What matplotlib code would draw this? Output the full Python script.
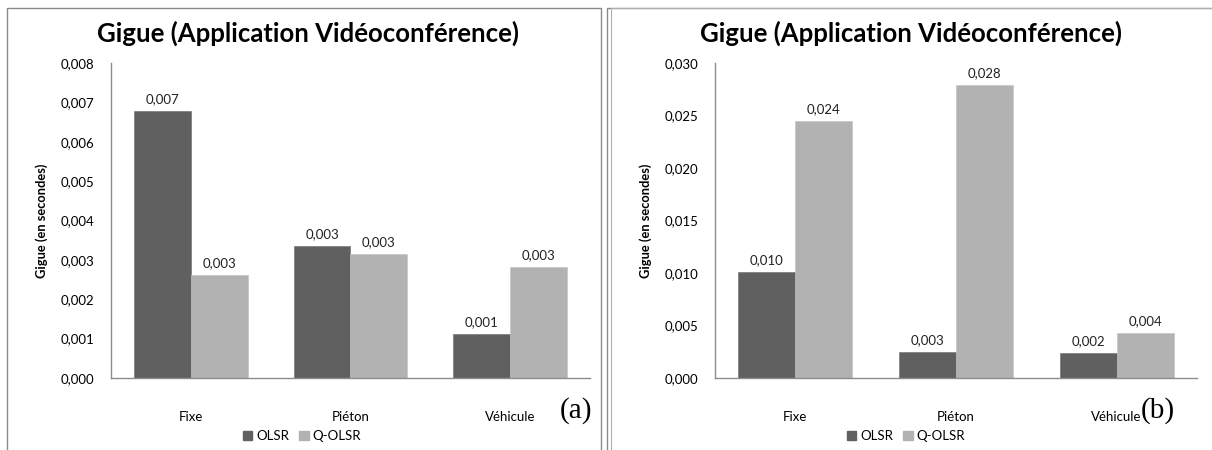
import matplotlib
matplotlib.use("Agg")
import matplotlib.pyplot as plt
from matplotlib.patches import Rectangle
import numpy as np

categories = ["Fixe", "Piéton", "Véhicule"]
series_names = ["OLSR", "Q-OLSR"]
olsr_a = [0.00679, 0.00335, 0.00112]
qolsr_a = [0.00262, 0.00315, 0.00283]
olsr_b = [0.0101, 0.0025, 0.00238]
qolsr_b = [0.0245, 0.0279, 0.00429]
labels_olsr_a = ["0,007", "0,003", "0,001"]
labels_qolsr_a = ["0,003", "0,003", "0,003"]
labels_olsr_b = ["0,010", "0,003", "0,002"]
labels_qolsr_b = ["0,024", "0,028", "0,004"]
yticks_a = [0.000, 0.001, 0.002, 0.003, 0.004, 0.005, 0.006, 0.007, 0.008]
yticks_b = [0.000, 0.005, 0.010, 0.015, 0.020, 0.025, 0.030]
title = "Gigue (Application Vidéoconférence)"
ylabel = "Gigue (en secondes)"
panel_tags = ["(a)", "(b)"]

C_OLSR = "#606060"
C_Q = "#b2b2b2"
FONT = "Lato"
FS = 9.5

W, H = 1212, 450
fig = plt.figure(figsize=(W / 100, H / 100), dpi=100)

def px_axes(x0, y_top, x1, y_bot):
    return fig.add_axes([x0 / W, 1 - y_bot / H, (x1 - x0) / W, (y_bot - y_top) / H])

# panel borders
bg = fig.add_axes([0, 0, 1, 1])
bg.set_xlim(0, W)
bg.set_ylim(H, 0)
bg.axis("off")
bg.add_patch(Rectangle((6.5, 7.5), 594, 460, fill=False, ec="#8a8a8a", lw=1.0))
bg.add_patch(Rectangle((606.5, 7.5), 606, 460, fill=False, ec="#8a8a8a", lw=1.0))
bg.add_patch(Rectangle((610.5, 7.5), 606, 460, fill=False, ec="#b0b0b0", lw=0.8))

def draw(ax_box, olsr, qolsr, lo, lq, yticks, ymax, title_cx, legend_cx, tag, tag_x):
    ax = px_axes(*ax_box)
    x = np.arange(len(categories))
    w = 0.355
    ax.bar(x - w / 2, olsr, w, color=C_OLSR, edgecolor="#6a6a6a", lw=0.4)
    ax.bar(x + w / 2, qolsr, w, color=C_Q, edgecolor="#c0c0c0", lw=0.4)
    for i in range(len(categories)):
        ax.annotate(lo[i], (x[i] - w / 2, olsr[i]), xytext=(0, 4), textcoords="offset points",
                    ha="center", va="bottom", fontsize=FS, family=FONT, color="#222222")
        ax.annotate(lq[i], (x[i] + w / 2, qolsr[i]), xytext=(0, 4), textcoords="offset points",
                    ha="center", va="bottom", fontsize=FS, family=FONT, color="#222222")
    ax.set_xlim(-0.5, len(categories) - 0.5)
    ax.set_ylim(0, ymax)
    ax.set_yticks(yticks)
    ax.set_yticklabels([f"{v:.3f}".replace(".", ",") for v in yticks], fontsize=FS, family=FONT)
    ax.set_xticks(x)
    ax.set_xticklabels(categories, fontsize=FS, family=FONT)
    ax.tick_params(axis="y", length=0, pad=12)
    ax.tick_params(axis="x", length=0, pad=24)
    for s in ["top", "right"]:
        ax.spines[s].set_visible(False)
    for s in ["left", "bottom"]:
        ax.spines[s].set_color("#8c8c8c")
        ax.spines[s].set_linewidth(1.0)
    ax.set_ylabel(ylabel, fontsize=9.3, family=FONT, fontweight="bold", labelpad=9)
    fig.text(title_cx / W, 1 - 33 / H, title, ha="center", va="center",
             fontsize=18.5, family=FONT, fontweight="bold")
    handles = [Rectangle((0, 0), 1, 1, color=C_OLSR), Rectangle((0, 0), 1, 1, color=C_Q)]
    fig.legend(handles, series_names, loc="center", bbox_to_anchor=(legend_cx / W, 1 - 436 / H),
               ncol=2, frameon=False, prop={"family": FONT, "size": FS},
               handlelength=0.7, handleheight=0.7, handletextpad=0.3, columnspacing=0.8)
    fig.text(tag_x / W, 1 - 411 / H, tag, ha="center", va="center",
             fontsize=21, family="Liberation Serif")
    return ax

draw((111, 63, 590, 378), olsr_a, qolsr_a, labels_olsr_a, labels_qolsr_a,
     yticks_a, 0.008, 308, 302, panel_tags[0], 576)
draw((715, 63, 1197, 378), olsr_b, qolsr_b, labels_olsr_b, labels_qolsr_b,
     yticks_b, 0.030, 911, 906, panel_tags[1], 1158)

fig.savefig("out.png", dpi=100)
